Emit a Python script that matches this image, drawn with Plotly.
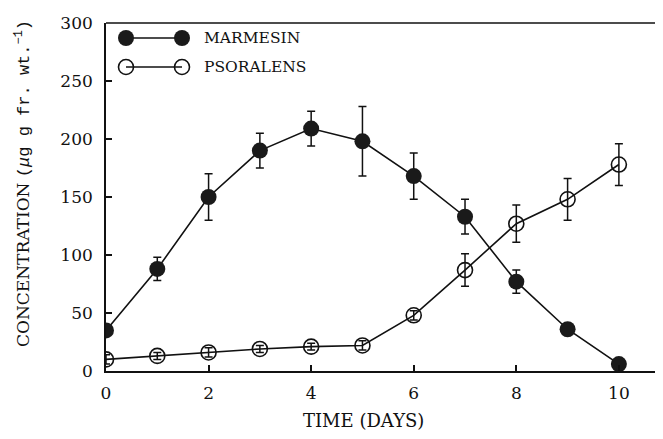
import plotly.graph_objects as go

days = [0, 1, 2, 3, 4, 5, 6, 7, 8, 9, 10]
marmesin = [35, 88, 150, 190, 209, 198, 168, 133, 77, 36, 6]
marmesin_err = [3, 10, 20, 15, 15, 30, 20, 15, 10, 3, 3]
psoralens = [10, 13, 16, 19, 21, 22, 48, 87, 127, 148, 178]
psoralens_err = [4, 3, 4, 3, 3, 4, 4, 14, 16, 18, 18]
x_ticks = [0, 2, 4, 6, 8, 10]
y_ticks = [0, 50, 100, 150, 200, 250, 300]
series_names = ["MARMESIN", "PSORALENS"]

FONT = "DejaVu Serif"
MONO = "Liberation Mono"
INK = "#111111"

# page body has an 8px margin; plot area spans screen x 106..663, y 23..371
W, H = 655, 431
L, T, B = 98, 15, 68
PW, PH = 557, 348


def px(x):
    return (x - 106) / PW


def py(y):
    return (371 - y) / PH


fig = go.Figure()

fig.add_trace(go.Scatter(
    x=days, y=psoralens, mode="lines+markers", name=series_names[1],
    line=dict(color=INK, width=1.6),
    marker=dict(symbol="circle-open", size=15, color=INK, line=dict(width=1.6)),
    error_y=dict(type="data", array=psoralens_err, color=INK, thickness=1.5, width=4),
    showlegend=False,
))
fig.add_trace(go.Scatter(
    x=days, y=marmesin, mode="lines+markers", name=series_names[0],
    line=dict(color=INK, width=1.6),
    marker=dict(symbol="circle", size=16, color="#1a1a1a", line=dict(width=0)),
    error_y=dict(type="data", array=marmesin_err, color=INK, thickness=1.5, width=4),
    showlegend=False,
))

# custom legend keys (pixel-coordinate overlay axes)
fig.add_trace(go.Scatter(
    x=[126, 182], y=[38, 38], xaxis="x2", yaxis="y2", mode="lines+markers",
    line=dict(color=INK, width=1.6),
    marker=dict(symbol="circle", size=16, color="#1a1a1a"),
    showlegend=False, hoverinfo="skip",
))
fig.add_trace(go.Scatter(
    x=[126, 182], y=[67, 67], xaxis="x2", yaxis="y2", mode="lines+markers",
    line=dict(color=INK, width=1.6),
    marker=dict(symbol="circle-open", size=15, color=INK, line=dict(width=1.6)),
    showlegend=False, hoverinfo="skip",
))

ytitle = ("CONCENTRATION <span style=\"font-family:'%s'\">(<i>μ</i>g g fr. wt.<sup>−1</sup>)</span>"
          % MONO)

annotations = [
    dict(x=px(202), y=py(38), xref="paper", yref="paper", text=series_names[0], showarrow=False,
         xanchor="left", yanchor="middle", font=dict(family=FONT, size=15.5, color=INK)),
    dict(x=px(202), y=py(67), xref="paper", yref="paper", text=series_names[1], showarrow=False,
         xanchor="left", yanchor="middle", font=dict(family=FONT, size=15.5, color=INK)),
    dict(x=px(363), y=py(420), xref="paper", yref="paper", text="TIME (DAYS)", showarrow=False,
         xanchor="center", yanchor="middle", font=dict(family=FONT, size=18, color=INK)),
    dict(x=px(23), y=py(184), xref="paper", yref="paper",
         text=ytitle, showarrow=False,
         textangle=-90, xanchor="center", yanchor="middle",
         font=dict(family=FONT, size=17, color=INK)),
]

fig.update_layout(
    width=W, height=H,
    margin=dict(l=L, r=0, t=T, b=B, pad=0),
    paper_bgcolor="white", plot_bgcolor="white",
    font=dict(family=FONT, size=15, color=INK),
    xaxis=dict(range=[0, 10.86], tickvals=x_ticks, ticks="inside", ticklen=6,
               tickwidth=1.5, tickcolor=INK, showline=True, linecolor=INK, linewidth=1.6,
               mirror=False, showgrid=False, zeroline=False, ticklabelstandoff=6,
               tickfont=dict(family=FONT, size=17, color=INK)),
    yaxis=dict(range=[0, 300], tickvals=y_ticks, ticks="inside", ticklen=6,
               tickwidth=1.5, tickcolor=INK, showline=True, linecolor=INK, linewidth=1.6,
               showgrid=False, zeroline=False, ticklabelstandoff=8,
               tickfont=dict(family=FONT, size=17, color=INK)),
    xaxis2=dict(overlaying="x", range=[106, 663], visible=False, fixedrange=True),
    yaxis2=dict(overlaying="y", range=[371, 23], visible=False, fixedrange=True),
    annotations=annotations,
    shapes=[dict(type="line", xref="paper", yref="paper", x0=0, x1=1, y0=1, y1=1,
                 line=dict(color=INK, width=1.6))],
)

fig.write_html("out.html")
